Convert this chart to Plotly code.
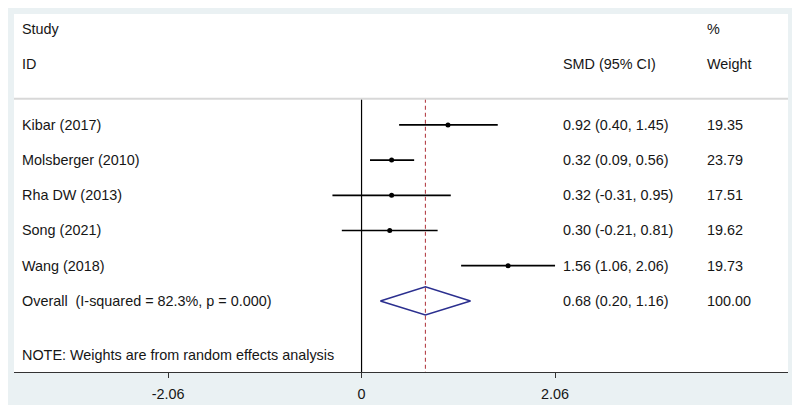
import plotly.graph_objects as go

studies = ["Kibar (2017)", "Molsberger (2010)", "Rha DW (2013)", "Song (2021)", "Wang (2018)"]
smd = [0.92, 0.32, 0.32, 0.30, 1.56]
ci_low = [0.40, 0.09, -0.31, -0.21, 1.06]
ci_high = [1.45, 0.56, 0.95, 0.81, 2.06]
weights = ["19.35", "23.79", "17.51", "19.62", "19.73"]
overall_label = "Overall  (I-squared = 82.3%, p = 0.000)"
overall_est = 0.68
overall_low = 0.20
overall_high = 1.16
overall_weight = "100.00"
tick_vals = [-2.06, 0, 2.06]
tick_text = ["-2.06", "0", "2.06"]
note = "NOTE: Weights are from random effects analysis"

FONT = "Liberation Sans, Arial, sans-serif"
TXT = "#161616"
FS = 14.4
rows = list(range(1, len(studies) + 1))
overall_row = len(studies) + 1
y_top, y_bot = -2.15, 8.02
sep_y = 0.26

fig = go.Figure()

# CI lines
for i, r in enumerate(rows):
    fig.add_trace(go.Scatter(x=[ci_low[i], ci_high[i]], y=[r, r], mode="lines",
                             line=dict(color="black", width=1.7), hoverinfo="skip"))
# zero line
fig.add_trace(go.Scatter(x=[0, 0], y=[sep_y, y_bot], mode="lines",
                         line=dict(color="black", width=1.2), hoverinfo="skip"))
# dashed overall line
fig.add_trace(go.Scatter(x=[overall_est, overall_est], y=[sep_y, y_bot], mode="lines",
                         line=dict(color="#B5424A", width=1.1, dash="4px,3px"), hoverinfo="skip"))
# points
fig.add_trace(go.Scatter(x=smd, y=rows, mode="markers",
                         marker=dict(color="black", size=5, symbol="circle"), hoverinfo="skip"))
# overall diamond
h = 0.4
fig.add_trace(go.Scatter(x=[overall_low, overall_est, overall_high, overall_est, overall_low],
                         y=[overall_row, overall_row - h, overall_row, overall_row + h, overall_row],
                         mode="lines", line=dict(color="#2B2F8F", width=1.6), hoverinfo="skip"))

# separator
fig.add_shape(type="line", xref="paper", yref="y", x0=0, x1=1, y0=sep_y, y1=sep_y,
              line=dict(color="#D8D8D8", width=2))

x_lab, x_smd, x_w = 0.0080, 0.7065, 0.8925

def ann(x, y, text):
    fig.add_annotation(x=x, y=y, xref="paper", yref="y", text=text, showarrow=False,
                       xanchor="left", yanchor="middle",
                       font=dict(family=FONT, size=FS, color=TXT))

ann(x_lab, -1.73, "Study")
ann(x_lab, -0.73, "ID")
ann(x_smd, -0.73, "SMD (95% CI)")
ann(x_w, -1.73, "%")
ann(x_w, -0.73, "Weight")
for i, r in enumerate(rows):
    ann(x_lab, r, studies[i])
    ann(x_smd, r, f"{smd[i]:.2f} ({ci_low[i]:.2f}, {ci_high[i]:.2f})")
    ann(x_w, r, weights[i])
ann(x_lab, overall_row, overall_label)
ann(x_smd, overall_row, f"{overall_est:.2f} ({overall_low:.2f}, {overall_high:.2f})")
ann(x_w, overall_row, overall_weight)
ann(x_lab, 7.53, note)

fig.update_layout(
    width=800, height=405,
    margin=dict(l=6, r=20, t=6, b=41),
    paper_bgcolor="#EAF1F3",
    plot_bgcolor="white",
    showlegend=False,
    xaxis=dict(range=[-3.70, 4.54], tickvals=tick_vals, ticktext=tick_text,
               showgrid=False, zeroline=False, showline=True, linecolor="#333333",
               linewidth=1.2, ticks="outside", ticklen=5, tickcolor="#333333",
               ticklabelstandoff=4,
               tickfont=dict(family=FONT, size=FS, color=TXT), fixedrange=True),
    yaxis=dict(range=[y_bot, y_top], visible=False, showgrid=False, zeroline=False,
               fixedrange=True),
)

fig.write_html("out.html")
